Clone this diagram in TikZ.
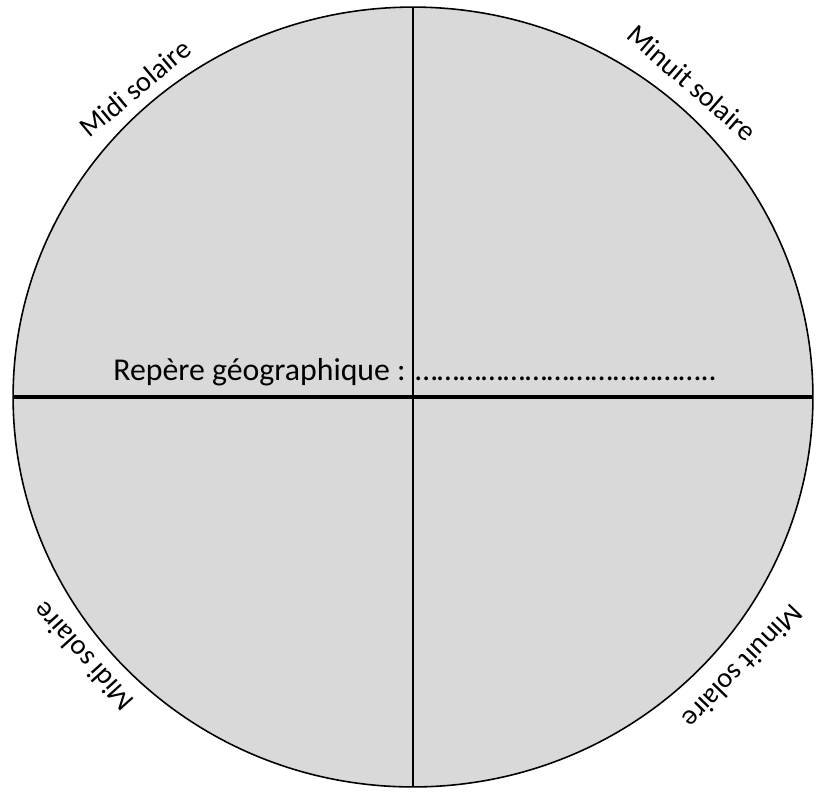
\documentclass[tikz,border=0pt]{standalone}
\usepackage{fontspec}
\setmainfont{Carlito}
\usepackage{xcolor}
\usetikzlibrary{shapes.geometric}

\definecolor{grisdisque}{HTML}{D9D9D9}

\tikzset{
  solaire/.style={font=\fontsize{16.2}{19}\selectfont, inner sep=0pt},
  repere/.style={font=\fontsize{18.1}{22}\selectfont, inner sep=0pt},
}

\begin{document}
\begin{tikzpicture}[x=0.02cm,y=-0.02cm]
    \useasboundingbox (0,0) rectangle (817,792);

    % Disk
    \node[ellipse, draw, line width=0.9pt, fill=grisdisque, inner sep=0pt, outer sep=0pt,
          minimum width=16cm, minimum height=15.6cm] (disque) at (413,397) {};

    % Dividing lines
    \draw[line width=1.1pt] (disque.north) -- (disque.south);
    \draw[line width=2.8pt] (disque.west) -- (disque.east);

    % Labels along the rim
    \node[solaire, rotate=40] (midihaut) at (135,88) {Midi solaire};
    \node[solaire, rotate=-41] (minuithaut) at (692,83) {Minuit solaire};
    \node[solaire, rotate=132] (midibas) at (83,657) {Midi solaire};
    \node[solaire, rotate=226] (minuitbas) at (743,667) {Minuit solaire};

    % Reference line
    \node[repere, anchor=base west] (ligne) at (113,380)
      {Repère géographique : …………………………………..};
\end{tikzpicture}
\end{document}
